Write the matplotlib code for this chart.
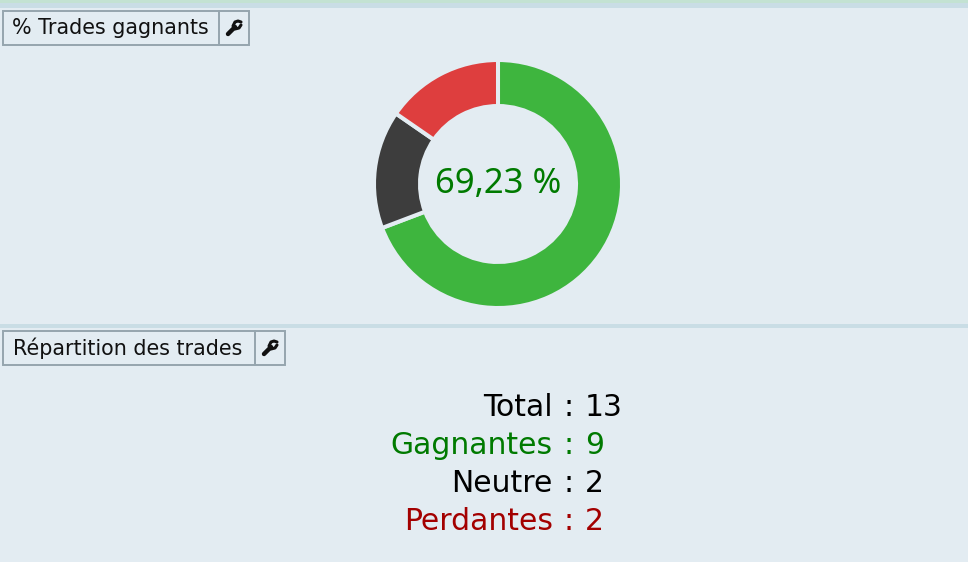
import matplotlib
matplotlib.use("Agg")
import matplotlib.pyplot as plt
from matplotlib.patches import Rectangle

W, H = 968, 562
BG = '#E3ECF2'
BAR = '#C9DDE5'
BORDER = '#95A5AE'
GREEN_TXT = '#007A00'
RED_TXT = '#A30000'

# --- Data ---
slice_values = [9, 2, 2]
slice_colors = ['#3EB53E', '#3D3D3D', '#DE3E3E']
pct_label = "69,23 %"
row_labels = ["Total", "Gagnantes", "Neutre", "Perdantes"]
row_values = [13, 9, 2, 2]
row_colors = ['black', GREEN_TXT, 'black', RED_TXT]

fig = plt.figure(figsize=(W / 100, H / 100), dpi=100, facecolor=BG)

# pixel coordinates overlay for the panel chrome and text
bg = fig.add_axes([0, 0, 1, 1])
bg.set_xlim(0, W)
bg.set_ylim(H, 0)
bg.axis('off')

bg.add_patch(Rectangle((0, 0), W, 3, color='#C3E2D2', lw=0))
bg.add_patch(Rectangle((0, 3), W, 5, color=BAR, lw=0))
bg.add_patch(Rectangle((0, 324), W, 4, color=BAR, lw=0))


def wrench(cx, cy):
    # small tool icon, drawn as a handle and an open jaw
    bg.plot([cx - 6, cx + 1], [cy + 6, cy - 1], color='#111111', lw=3.2,
            solid_capstyle='round')
    bg.plot([cx - 1, cx + 1, cx + 4, cx + 7], [cy - 2, cy - 6, cy - 7, cy - 6],
            color='#111111', lw=2.2, solid_capstyle='round')
    bg.plot([cx + 1, cx + 5, cx + 7], [cy + 1, cy, cy - 3],
            color='#111111', lw=2.2, solid_capstyle='round')


def header(title, x_div, x_end, y_top, text_x):
    bg.add_patch(Rectangle((3, y_top), x_end - 3, 34, fill=False,
                           edgecolor=BORDER, lw=1.4))
    bg.plot([x_div, x_div], [y_top, y_top + 34], color=BORDER, lw=1.4)
    bg.text(text_x, y_top + 17.5, title, fontsize=14.9, color='#111111',
            ha='left', va='center')
    wrench((x_div + x_end) / 2, y_top + 17)


header("% Trades gagnants", 219, 249, 11, 12)
header("Répartition des trades", 255, 285, 331, 13)

# --- Donut ---
cx, cy, r = 498, 184, 124
ax = fig.add_axes([(cx - r) / W, 1 - (cy + r) / H, 2 * r / W, 2 * r / H])
ax.pie(slice_values, colors=slice_colors, startangle=90, counterclock=False,
       radius=1, wedgeprops=dict(width=(124 - 78) / 124, edgecolor=BG, linewidth=2.9))
ax.set_xlim(-1, 1)
ax.set_ylim(-1, 1)
ax.text(0, 0, pct_label, fontsize=25, color=GREEN_TXT, ha='center', va='center',
        family='Noto Sans')

# --- Breakdown ---
for i in range(len(row_labels)):
    y = 407 + i * 38
    bg.text(553, y, row_labels[i], fontsize=21.5, color=row_colors[i],
            ha='right', va='center')
    bg.text(569, y, ":", fontsize=21.5, color=row_colors[i], ha='center', va='center')
    bg.text(585, y, str(row_values[i]), fontsize=21.5, color=row_colors[i],
            ha='left', va='center')

fig.savefig("out.png", dpi=100, facecolor=BG)
